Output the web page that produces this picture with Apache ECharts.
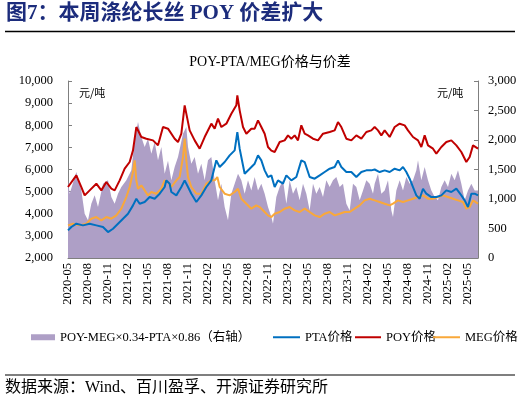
<!DOCTYPE html>
<html><head><meta charset="utf-8">
<script src="https://cdn.jsdelivr.net/npm/echarts@6/dist/echarts.min.js"></script>
<style>html,body{margin:0;padding:0;background:#fff}#c{width:521px;height:405px}</style>
</head><body><div id="c"></div>
<script>
// x values are months since 2020-05
const tickLabels = ['2020-05','2020-08','2020-11','2021-02','2021-05','2021-08','2021-11','2022-02','2022-05','2022-08','2022-11','2023-02','2023-05','2023-08','2023-11','2024-02','2024-05','2024-08','2024-11','2025-02','2025-05'];
const leftTicks = [2000,3000,4000,5000,6000,7000,8000,9000,10000];
const rightTicks = [0,500,1000,1500,2000,2500,3000];

const poyX = [0,1.25,2,2.5,3.25,4.25,5,5.75,6.5,7,7.75,8.5,9.25,9.75,10.25,10.5,11,11.75,12.75,13.5,14.25,15,16,16.5,17,17.5,17.75,18.25,19,19.75,20.5,21.5,22,22.5,23,23.75,24.5,25.25,25.4,25.75,26.25,26.75,27.5,28,28.5,29,29.5,30,30.5,31,31.75,32.5,33,33.5,34,34.5,35,35.5,36,36.75,37.5,38.25,39.25,40,40.5,41,41.75,42.5,43.25,44,44.75,45.5,46,46.5,47,47.5,48.25,49,49.75,50.5,51,51.75,52.5,53,53.5,54,54.75,55.25,56,56.75,57.5,58.25,59,59.75,60.25,60.75,61.5];
const poyY = [5208,5735,5208,4830,5057,5358,5057,5434,5132,5057,5509,6036,6338,6865,7920,7845,7468,7393,7317,7091,7920,7845,7393,7242,7619,8900,8824,7770,7317,6940,7468,8071,7845,8297,7920,8071,8523,8900,9352,8674,7920,7619,7845,7845,8222,7920,7619,7016,6850,6790,7242,7317,7543,7393,7543,7317,7996,7619,7543,7393,7317,7619,7694,7770,8146,7920,7393,7317,7543,7393,7694,7770,7920,7770,7543,7770,7468,7920,8071,7996,7770,7468,7317,7016,7543,7091,6940,6715,7016,7242,7317,7091,6790,6338,6564,7091,6940];

const ptaX = [0,0.5,1.25,2.25,3.25,4.25,5.25,6,6.25,6.75,7.5,8.25,9,9.75,10.25,10.75,11.5,12.25,13,13.75,14.5,14.75,15.25,15.5,16.25,17,17.5,18,18.5,19.25,20,20.75,21.5,22.25,22.75,23.5,24.25,25,25.4,25.75,26.5,27.25,28,28.5,29,29.5,30,30.5,31,31.5,32.25,32.75,33.5,34.25,35,35.5,36.25,37,37.75,38.5,39.25,40,40.5,41,41.75,42.5,43.25,44,44.75,45.5,46,46.75,47.5,48.25,49,49.75,50.25,50.75,51.25,51.75,52.25,52.75,53.25,53.75,54.5,55.25,56,56.75,57.5,58.25,59,59.5,60,60.5,61,61.5];
const ptaY = [3249,3400,3550,3475,3550,3475,3400,3173,3098,3324,3550,3776,4002,4379,4680,4454,4530,4755,4680,4906,5208,5509,5358,4982,4831,5208,5509,5208,4906,4530,4831,5208,5509,6413,6112,6338,6640,6865,7694,6940,5811,6036,6262,6640,6413,5961,5660,5735,5208,5509,5358,5735,5509,5660,6413,6338,5660,5585,5735,5886,6036,6112,6413,6112,5886,5886,5660,5886,5961,5961,6000,5886,5961,5886,6036,5961,6112,5886,5585,5208,4830,4680,5132,4906,4755,4755,4830,5057,4982,5132,4830,4605,4303,4906,4906,4830];

const megX = [0,0.75,1.75,2.75,3.5,4.25,5,5.75,6.5,7.25,8,8.75,9.25,9.75,10,10.25,10.5,11,11.5,12,12.5,13.25,14,14.5,15,15.5,16.25,16.75,17.25,17.5,17.75,18,18.5,19.25,20,20.75,21.5,22,22.4,22.75,23.5,24.25,25,25.5,26,26.75,27.5,28.25,28.75,29.5,30,30.5,31,31.75,32.5,33.25,34,34.75,35.5,36.25,37,37.75,38.5,39.25,40,40.75,41.5,42.25,43,43.75,44.5,45.25,46,46.75,47.5,48.25,48.75,49.5,50.25,51,51.75,52.5,53.25,54,54.75,55.5,56.25,57,57.75,58.5,59.25,59.75,60.25,60.75,61.5];
const megY = [3475,3550,3475,3550,3776,3851,3700,3851,3776,3927,4228,4755,5208,5886,6413,5509,5132,5283,5057,4830,4982,4906,5132,5509,5433,5208,5509,5660,6564,7393,6413,5660,5208,4906,4906,5358,5509,5509,5660,5208,4906,4830,4982,5132,4680,4454,4228,4379,4303,4078,3927,3851,4002,4078,4228,4303,4153,4078,4228,4078,3927,3851,4002,4078,3927,4002,4078,4078,4228,4379,4605,4680,4605,4530,4454,4379,4454,4605,4530,4605,4680,4755,4830,4680,4680,4755,4830,4755,4680,4605,4530,4228,4303,4605,4454];

const spreadX = [0,0.25,1.25,2,2.5,3,3.5,4,4.5,5.25,6,6.5,7,7.5,8,8.75,9.5,10,10.5,11,11.5,12,12.5,13,13.5,14,14.5,15,15.5,16,16.5,17.25,17.75,18,18.5,19,19.5,20,20.5,21,21.5,22,22.5,23,23.5,24,24.5,25,25.5,26,26.5,27,27.5,28,28.5,29,29.5,30,30.5,30.75,31.25,31.75,32.25,32.75,33.25,33.75,34.25,34.75,35.25,35.75,36.25,36.75,37.25,37.75,38.25,38.75,39.25,39.75,40.25,40.75,41.25,41.75,42.25,42.75,43.25,43.75,44.25,44.75,45.25,45.75,46,46.5,47,47.5,48,48.5,48.75,49.25,49.75,50.25,50.75,51.25,51.75,52.25,52.5,53,53.5,54,54.5,55,55.5,56,56.5,57,57.5,58,58.5,59,59.5,60,60.5,61,61.5];
const spreadY = [1316,1090,1457,1146,751,638,920,1062,864,1260,1316,1034,920,1090,1203,1316,1486,1994,2305,2050,1881,2022,1768,1966,1655,1881,1429,1650,1316,1542,1711,2107,2220,1881,1598,1711,1429,1598,1316,1655,1711,1316,977,1260,864,638,1090,1260,1429,1316,1090,1316,1146,1372,1146,1260,1090,864,700,581,1034,1203,1316,920,1316,1090,1203,977,1260,1090,807,1260,1090,1203,1034,1316,1203,1316,1372,1203,1260,920,807,1260,1203,977,1146,1316,1260,1090,1260,1429,1090,1146,1316,807,694,1146,1316,1146,1372,1260,1316,1486,1655,1316,1542,1316,1146,1034,977,1203,1316,1203,1429,1316,1486,1260,977,1146,1260,1146,1146];

const zip = (xs, ys) => xs.map((x, i) => [x, ys[i]]);
const fmt = v => String(v).replace(/\B(?=(\d{3})+(?!\d))/g, ',');
const serif = "'Liberation Serif','Times New Roman','Noto Sans CJK SC',serif";
const names = ['POY-MEG×0.34-PTA×0.86（右轴）', 'PTA价格', 'POY价格', 'MEG价格'];
const colors = ['#ae9fc6', '#0070c0', '#c00000', '#f9a83a'];

const chart = echarts.init(document.getElementById('c'), null, {renderer: 'canvas'});
const legendBase = {orient: 'horizontal', top: 331, icon: 'rect', itemGap: 10,
  textStyle: {fontFamily: serif, fontSize: 12.5, color: '#000'}, selectedMode: false, padding: 0};
chart.setOption({
  animation: false,
  backgroundColor: '#fff',
  grid: {left: 68, right: 43, top: 81, bottom: 147, containLabel: false},
  legend: [
    Object.assign({}, legendBase, {left: 31, data: [names[0]], itemWidth: 24, itemHeight: 6}),
    Object.assign({}, legendBase, {left: 273, data: [names[1]], itemWidth: 27, itemHeight: 2}),
    Object.assign({}, legendBase, {left: 355, data: [names[2]], itemWidth: 26, itemHeight: 2}),
    Object.assign({}, legendBase, {left: 433, data: [names[3]], itemWidth: 27, itemHeight: 2})
  ],
  xAxis: {
    type: 'value', min: 0, max: 61.5, interval: 3,
    axisLine: {show: true, lineStyle: {color: '#7f7f7f', width: 1}},
    axisTick: {show: true, inside: true, length: 4, lineStyle: {color: '#7f7f7f'}},
    splitLine: {show: false},
    axisLabel: {rotate: 90, margin: 5, fontFamily: serif, fontSize: 12.5, color: '#000',
      showMaxLabel: false,
      formatter: v => { const i = Math.round(v / 3); return Math.abs(v - i * 3) < 1e-6 && tickLabels[i] ? tickLabels[i] : ''; }}
  },
  yAxis: [
    {type: 'value', min: leftTicks[0], max: leftTicks[leftTicks.length - 1], interval: 1000,
      axisLine: {show: true, lineStyle: {color: '#7f7f7f'}},
      axisTick: {show: true, inside: true, length: 4, lineStyle: {color: '#7f7f7f'}},
      splitLine: {show: false},
      axisLabel: {margin: 15, fontFamily: serif, fontSize: 12.5, color: '#000', formatter: v => fmt(v)}},
    {type: 'value', min: rightTicks[0], max: rightTicks[rightTicks.length - 1], interval: 500, position: 'right',
      axisLine: {show: true, lineStyle: {color: '#7f7f7f'}},
      axisTick: {show: true, inside: true, length: 4, lineStyle: {color: '#7f7f7f'}},
      splitLine: {show: false},
      axisLabel: {margin: 10, fontFamily: serif, fontSize: 12.5, color: '#000', formatter: v => fmt(v)}}
  ],
  series: [
    {name: names[0], type: 'line', yAxisIndex: 1, data: zip(spreadX, spreadY), showSymbol: false, symbol: 'none',
      lineStyle: {width: 0, color: colors[0]}, itemStyle: {color: colors[0]}, areaStyle: {color: colors[0], opacity: 1}, z: 1},
    {name: names[1], type: 'line', data: zip(ptaX, ptaY), symbol: 'none', lineStyle: {width: 2, color: colors[1]}, itemStyle: {color: colors[1]}, z: 3},
    {name: names[2], type: 'line', data: zip(poyX, poyY), symbol: 'none', lineStyle: {width: 2, color: colors[2]}, itemStyle: {color: colors[2]}, z: 4},
    {name: names[3], type: 'line', data: zip(megX, megY), symbol: 'none', lineStyle: {width: 2, color: colors[3]}, itemStyle: {color: colors[3]}, z: 2}
  ],
  graphic: [
    {type: 'text', left: 6, top: 3, style: {text: '图7：本周涤纶长丝 POY 价差扩大', fill: '#1c2c7c',
      font: "bold 21px 'Liberation Serif','Noto Sans CJK SC',serif"}},
    {type: 'line', shape: {x1: 5, y1: 31.5, x2: 515, y2: 31.5}, style: {stroke: '#000', lineWidth: 1.5}},
    {type: 'text', x: 270, y: 62, style: {text: 'POY-PTA/MEG价格与价差', fill: '#000', align: 'center', verticalAlign: 'middle',
      font: "14px 'Liberation Serif','Noto Sans CJK SC',serif"}},
    {type: 'text', x: 79, y: 93, style: {text: '元/吨', fill: '#000', verticalAlign: 'middle', font: "11px 'Noto Sans CJK SC',sans-serif"}},
    {type: 'text', x: 437, y: 93, style: {text: '元/吨', fill: '#000', verticalAlign: 'middle', font: "11px 'Noto Sans CJK SC',sans-serif"}},
    {type: 'line', shape: {x1: 5, y1: 375, x2: 515, y2: 375}, style: {stroke: '#000', lineWidth: 1.2}},
    {type: 'text', x: 5, y: 388, style: {text: '数据来源：Wind、百川盈孚、开源证券研究所', fill: '#000', verticalAlign: 'middle',
      font: "16px 'Liberation Serif','Noto Sans CJK SC',serif"}}
  ]
});
</script></body></html>
